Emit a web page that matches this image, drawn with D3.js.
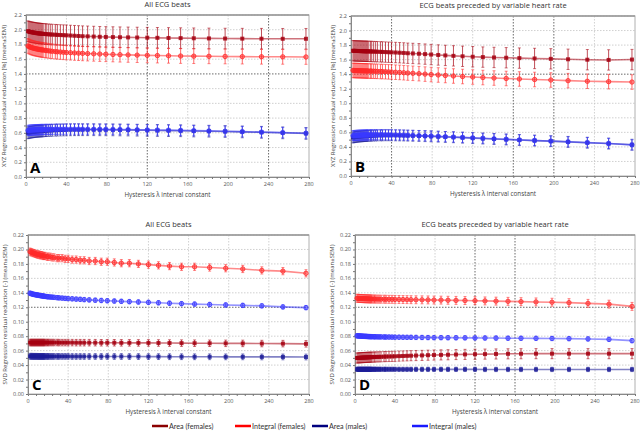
<!DOCTYPE html>
<html>
<head>
<meta charset="utf-8">
<script src="https://cdn.jsdelivr.net/npm/d3@7"></script>
<style>
  body { margin: 0; background: #fff; }
  svg text { font-family: "Open Sans", "Noto Sans", sans-serif; }
  svg text.leg { font-family: Lato, "Open Sans", sans-serif; }
</style>
</head>
<body>
<div id="chart"></div>
<script>
var svgWidth = 643;
var svgHeight = 437;

// hysteresis lambda values (x positions of the points)
var lambdas = [2,3,4,5,6,7,8,9,10,11,12,13,14,15,16,17,19,20,22,24,26,29,31,34,37,40,44,48,52,56,61,67,73,79,86,93,101,110,120,130,141,153,166,181,197,214,233,254,277];

var seriesNames = ["Area (females)", "Integral (females)", "Area (males)", "Integral (males)"];
var xTicks = [0, 40, 80, 120, 160, 200, 240, 280];

// Panel A - XYZ, all ECG beats
var aAreaF = [1.98,1.975,1.97,1.968,1.965,1.962,1.96,1.958,1.955,1.953,1.951,1.95,1.948,1.946,1.945,1.944,
  1.942,1.94,1.938,1.936,1.934,1.932,1.93,1.928,1.926,1.924,
  1.921,1.918,1.915,1.912,1.91,1.907,1.904,1.902,1.9,1.898,
  1.896,1.894,1.892,1.89,1.888,1.886,1.884,1.882,1.88,1.879,
  1.878,1.877,1.877];
var aIntF = [1.78,1.772,1.765,1.76,1.755,1.751,1.747,1.744,1.741,1.738,1.735,1.733,1.73,1.728,1.726,1.724,
  1.72,1.718,1.714,1.71,1.707,1.703,1.7,1.697,1.694,1.691,
  1.688,1.685,1.682,1.679,1.676,1.673,1.67,1.667,1.664,1.661,
  1.658,1.655,1.652,1.649,1.646,1.643,1.641,1.639,1.637,1.635,
  1.633,1.632,1.63];
var aAreaM = [0.6,0.604,0.607,0.61,0.612,0.614,0.616,0.618,0.62,0.621,0.622,0.623,0.624,0.625,0.626,0.627,
  0.629,0.63,0.632,0.633,0.634,0.636,0.637,0.638,0.639,0.64,
  0.641,0.642,0.642,0.642,0.642,0.642,0.641,0.641,0.64,0.639,
  0.638,0.636,0.634,0.632,0.63,0.628,0.625,0.622,0.618,0.613,
  0.607,0.6,0.592];
var aIntM = [0.632,0.634,0.636,0.637,0.638,0.639,0.64,0.641,0.642,0.642,0.643,0.643,0.644,0.644,0.645,0.645,
  0.646,0.646,0.647,0.647,0.648,0.648,0.649,0.649,0.649,0.65,
  0.65,0.65,0.65,0.649,0.649,0.648,0.648,0.647,0.646,0.645,
  0.644,0.642,0.64,0.638,0.636,0.633,0.63,0.626,0.621,0.616,
  0.61,0.603,0.595];
var aSem = [0.14, 0.10, 0.08, 0.07];

// Panel B - XYZ, beats preceded by variable heart rate
var bAreaF = [1.722,1.721,1.72,1.72,1.719,1.719,1.718,1.718,1.717,1.717,1.716,1.716,1.715,1.715,1.714,1.714,
  1.713,1.712,1.711,1.71,1.709,1.707,1.706,1.704,1.702,1.7,
  1.698,1.695,1.692,1.688,1.685,1.681,1.676,1.67,1.664,1.658,
  1.652,1.646,1.64,1.635,1.63,1.626,1.621,1.616,1.611,1.605,
  1.599,1.596,1.601];
var bIntF = [1.452,1.451,1.45,1.45,1.449,1.449,1.448,1.448,1.447,1.447,1.446,1.446,1.445,1.445,1.444,1.444,
  1.443,1.442,1.441,1.44,1.439,1.437,1.436,1.434,1.432,1.43,
  1.427,1.424,1.42,1.416,1.412,1.407,1.401,1.395,1.389,1.382,
  1.375,1.368,1.361,1.354,1.347,1.341,1.334,1.327,1.32,1.311,
  1.303,1.297,1.292];
var bAreaM = [0.53,0.533,0.536,0.538,0.54,0.542,0.543,0.545,0.546,0.547,0.548,0.549,0.55,0.551,0.552,0.553,
  0.554,0.555,0.556,0.557,0.558,0.559,0.559,0.56,0.56,0.56,
  0.559,0.558,0.557,0.555,0.553,0.551,0.548,0.545,0.541,0.537,
  0.533,0.527,0.521,0.515,0.509,0.502,0.495,0.487,0.479,0.469,
  0.458,0.446,0.43];
var bIntM = [0.555,0.556,0.557,0.558,0.559,0.56,0.561,0.562,0.562,0.563,0.563,0.564,0.564,0.565,0.565,0.565,
  0.566,0.566,0.566,0.567,0.567,0.567,0.567,0.567,0.566,0.566,
  0.565,0.564,0.562,0.56,0.558,0.555,0.552,0.549,0.545,0.541,
  0.536,0.531,0.525,0.519,0.512,0.505,0.497,0.489,0.48,0.47,
  0.459,0.447,0.428];
var bSem = [0.14, 0.10, 0.075, 0.07];

// Panel C - SVD, all ECG beats
var cAreaF = [0.0712,0.0712,0.0712,0.0712,0.0712,0.0712,0.0712,0.0712,0.0712,0.0712,0.0712,0.0712,0.0712,0.0712,0.0712,0.0712,
  0.0712,0.0712,0.0712,0.0712,0.0712,0.0712,0.0711,0.0711,0.0711,0.0711,
  0.0711,0.071,0.071,0.071,0.071,0.071,0.0709,0.0709,0.0709,0.0708,
  0.0708,0.0707,0.0707,0.0706,0.0705,0.0704,0.0703,0.0702,0.0701,0.07,
  0.0698,0.0697,0.0694];
var cIntF = [0.197,0.196,0.196,0.195,0.195,0.194,0.194,0.193,0.193,0.193,0.192,0.192,0.192,0.191,0.191,0.191,
  0.19,0.19,0.19,0.189,0.189,0.188,0.188,0.188,0.187,0.187,
  0.186,0.186,0.185,0.185,0.184,0.184,0.183,0.183,0.182,0.181,
  0.181,0.18,0.179,0.178,0.177,0.176,0.176,0.175,0.174,0.173,
  0.171,0.17,0.167];
var cAreaM = [0.0522,0.0522,0.0522,0.0521,0.0521,0.0521,0.0521,0.0521,0.052,0.052,0.052,0.052,0.052,0.052,0.052,0.052,
  0.052,0.052,0.052,0.052,0.052,0.052,0.052,0.052,0.052,0.052,
  0.0519,0.0519,0.0519,0.0519,0.0519,0.0519,0.0519,0.0519,0.0519,0.0519,
  0.0518,0.0518,0.0517,0.0517,0.0516,0.0516,0.0515,0.0515,0.0514,0.0514,
  0.0513,0.0513,0.0512];
var cIntM = [0.1395,0.139,0.1385,0.138,0.1378,0.1375,0.1372,0.137,0.1367,0.1365,0.1362,0.136,0.1358,0.1355,0.1353,0.135,
  0.1347,0.1345,0.1342,0.134,0.1337,0.1333,0.133,0.1327,0.1323,0.132,
  0.1317,0.1313,0.131,0.1306,0.1302,0.1298,0.1294,0.129,0.1286,0.1282,
  0.1278,0.1273,0.1268,0.1262,0.1256,0.125,0.1244,0.1238,0.1232,0.1226,
  0.122,0.1205,0.1195];
var cSem = [0.0045, 0.005, 0.004, 0.003];

// Panel D - SVD, beats preceded by variable heart rate
var dAreaF = [0.0498,0.0499,0.05,0.0501,0.0502,0.0503,0.0504,0.0505,0.0505,0.0506,0.0507,0.0508,0.0508,0.0509,0.051,0.051,
  0.0511,0.0512,0.0513,0.0514,0.0515,0.0517,0.0518,0.0519,0.052,0.0522,
  0.0524,0.0526,0.0528,0.053,0.0532,0.0534,0.0537,0.0539,0.0541,0.0543,
  0.0546,0.0548,0.055,0.0552,0.0554,0.0556,0.0557,0.0558,0.0558,0.0558,
  0.0558,0.0558,0.0558];
var dIntF = [0.1325,0.1324,0.1323,0.1322,0.1321,0.132,0.132,0.1319,0.1318,0.1318,0.1317,0.1317,0.1316,0.1316,0.1315,0.1315,
  0.1314,0.1314,0.1313,0.1313,0.1312,0.1312,0.1311,0.131,0.131,0.1309,
  0.1308,0.1307,0.1306,0.1305,0.1304,0.1303,0.1302,0.13,0.1299,0.1297,
  0.1295,0.1293,0.1291,0.1288,0.1285,0.1282,0.1278,0.1274,0.127,0.1264,
  0.1254,0.1243,0.1212];
var dAreaM = [0.0342,0.0342,0.0342,0.0342,0.0342,0.0342,0.0342,0.0342,0.0342,0.0342,0.0342,0.0342,0.0342,0.0342,0.0342,0.0342,
  0.0342,0.0342,0.0342,0.0342,0.0342,0.0342,0.0342,0.0342,0.0342,0.0342,
  0.0341,0.0341,0.0341,0.0341,0.0341,0.0341,0.0341,0.0341,0.0341,0.0341,
  0.0341,0.0341,0.0341,0.034,0.034,0.034,0.034,0.034,0.034,0.034,
  0.034,0.034,0.034];
var dIntM = [0.0805,0.0804,0.0803,0.0802,0.0801,0.08,0.0799,0.0798,0.0797,0.0797,0.0796,0.0795,0.0795,0.0794,0.0794,0.0793,
  0.0792,0.0792,0.0791,0.079,0.079,0.0789,0.0788,0.0788,0.0787,0.0786,
  0.0786,0.0785,0.0784,0.0784,0.0783,0.0782,0.0781,0.078,0.078,0.0779,
  0.0778,0.0777,0.0776,0.0775,0.0774,0.0772,0.0771,0.077,0.0768,0.0766,
  0.0762,0.0756,0.0738];
var dSem = [0.007, 0.0055, 0.003, 0.003];

var colors = ["#a50010", "#ff2a2a", "#1c1c96", "#3a3aff"];
var legendColors = ["#8b0000", "#ff0000", "#00007f", "#1a1aff"];

var titleAll = "All ECG beats";
var titleVar = "ECG beats preceded by variable heart rate";
var labelXYZ = "XYZ Regression residual reduction [%] (mean\u00b1SEM)";
var labelSVD = "SVD Regression residual reduction [-] (mean\u00b1SEM)";
var labelX = "Hysteresis \u03bb interval constant";

var panels = [
  {letter: "A", title: titleAll, ylab: labelXYZ, left: 26, right: 309, top: 15, bottom: 177, ymax: 2.2, ystep: 0.2, fmt: ".1f",
   darkY: [1.4], darkX: [120, 240], series: [aAreaF, aIntF, aAreaM, aIntM], sem: aSem, ylabX: 6},
  {letter: "B", title: titleVar, ylab: labelXYZ, left: 351, right: 635, top: 16, bottom: 176, ymax: 2.2, ystep: 0.2, fmt: ".1f",
   darkY: [1.4], darkX: [40, 160, 200], series: [bAreaF, bIntF, bAreaM, bIntM], sem: bSem, ylabX: 335},
  {letter: "C", title: titleAll, ylab: labelSVD, left: 28, right: 309, top: 235, bottom: 394, ymax: 0.22, ystep: 0.02, fmt: ".2f",
   darkY: [0.12], darkX: [], series: [cAreaF, cIntF, cAreaM, cIntM], sem: cSem, ylabX: 7},
  {letter: "D", title: titleVar, ylab: labelSVD, left: 355, right: 635, top: 235, bottom: 394, ymax: 0.22, ystep: 0.02, fmt: ".2f",
   darkY: [0.12], darkX: [120, 160], series: [dAreaF, dIntF, dAreaM, dIntM], sem: dSem, ylabX: 334}
];

var svg = d3.select("#chart")
  .append("svg")
  .attr("width", svgWidth)
  .attr("height", svgHeight);

panels.forEach(function(p) {
  var x = d3.scaleLinear().domain([0, 280]).range([p.left, p.right]);
  var y = d3.scaleLinear().domain([0, p.ymax]).range([p.bottom, p.top]);
  var yTicks = d3.range(0, p.ymax + p.ystep / 2, p.ystep);
  var g = svg.append("g");

  // grid
  g.selectAll(".gy").data(yTicks.slice(1)).enter().append("line")
    .attr("x1", p.left).attr("x2", p.right)
    .attr("y1", d => y(d)).attr("y2", d => y(d))
    .attr("stroke", d => p.darkY.some(v => Math.abs(v - d) < 1e-6) ? "#444" : "#c4c4c4")
    .attr("stroke-dasharray", "1.5,1.5")
    .attr("stroke-width", 0.8);
  g.selectAll(".gx").data(xTicks.slice(1, -1)).enter().append("line")
    .attr("x1", d => x(d)).attr("x2", d => x(d))
    .attr("y1", p.top).attr("y2", p.bottom)
    .attr("stroke", d => p.darkX.indexOf(d) >= 0 ? "#444" : "#c4c4c4")
    .attr("stroke-dasharray", "1.5,1.5")
    .attr("stroke-width", 0.8);

  // frame
  g.append("rect")
    .attr("x", p.left).attr("y", p.top)
    .attr("width", p.right - p.left).attr("height", p.bottom - p.top)
    .attr("fill", "none").attr("stroke", "#b0b0b0").attr("stroke-width", 1);
  g.append("line")
    .attr("x1", p.left).attr("x2", p.right).attr("y1", p.top).attr("y2", p.top)
    .attr("stroke", "#999").attr("stroke-width", 1.5);

  // axes
  var xAxis = d3.axisBottom(x).tickValues(d3.range(0, 281, 8)).tickSize(2).tickFormat("");
  g.append("g").attr("transform", `translate(0, ${p.bottom})`).call(xAxis)
    .call(a => a.selectAll("line").attr("stroke", "#777"))
    .call(a => a.select(".domain").attr("stroke", "#888"));
  var yAxis = d3.axisLeft(y).tickValues(d3.range(0, p.ymax + p.ystep / 4, p.ystep / 2)).tickSize(2).tickFormat("");
  g.append("g").attr("transform", `translate(${p.left}, 0)`).call(yAxis)
    .call(a => a.selectAll("line").attr("stroke", "#777"))
    .call(a => a.select(".domain").attr("stroke", "#888"));

  g.selectAll(".xl").data(xTicks).enter().append("text")
    .attr("x", d => x(d)).attr("y", p.bottom + 9)
    .attr("text-anchor", "middle").attr("font-size", 5.5).attr("fill", "#555")
    .text(d => d);
  g.selectAll(".yl").data(yTicks).enter().append("text")
    .attr("x", p.left - 4).attr("y", d => y(d) + 2)
    .attr("text-anchor", "end").attr("font-size", 5.5).attr("fill", "#555")
    .text(d => d3.format(p.fmt)(d));

  // titles & labels
  g.append("text")
    .attr("x", (p.left + p.right) / 2).attr("y", p.top - 8)
    .attr("text-anchor", "middle").attr("font-size", 7.5).attr("fill", "#333")
    .text(p.title);
  g.append("text")
    .attr("x", (p.left + p.right) / 2).attr("y", p.bottom + 20)
    .attr("text-anchor", "middle").attr("font-size", 6.3).attr("fill", "#444")
    .text(labelX);
  g.append("text")
    .attr("transform", `translate(${p.ylabX}, ${(p.top + p.bottom) / 2}) rotate(-90)`)
    .attr("text-anchor", "middle").attr("font-size", 6).attr("fill", "#444")
    .text(p.ylab);

  // series
  p.series.forEach(function(vals, si) {
    var col = colors[si];
    var pts = vals.map((v, i) => ({x: lambdas[i], y: v, e: p.sem[si]}));
    var sg = g.append("g");
    sg.append("path").datum(pts)
      .attr("fill", "none").attr("stroke", col).attr("stroke-width", 1.6)
      .attr("stroke-opacity", 0.55)
      .attr("d", d3.line().x(d => x(d.x)).y(d => y(d.y)));
    sg.selectAll(".eb").data(pts).enter().append("line")
      .attr("x1", d => x(d.x)).attr("x2", d => x(d.x))
      .attr("y1", d => y(d.y - d.e)).attr("y2", d => y(d.y + d.e))
      .attr("stroke", col).attr("stroke-width", 1).attr("stroke-opacity", 0.7);
    [-1, 1].forEach(function(s) {
      sg.selectAll(".cap").data(pts).enter().append("line")
        .attr("x1", d => x(d.x) - 1.5).attr("x2", d => x(d.x) + 1.5)
        .attr("y1", d => y(d.y + s * d.e)).attr("y2", d => y(d.y + s * d.e))
        .attr("stroke", col).attr("stroke-width", 0.8).attr("stroke-opacity", 0.7);
    });
    if (si % 2 === 0) {
      sg.selectAll(".mk").data(pts).enter().append("rect")
        .attr("x", d => x(d.x) - 2).attr("y", d => y(d.y) - 2)
        .attr("width", 4).attr("height", 4)
        .attr("fill", col).attr("fill-opacity", 0.85);
    } else {
      sg.selectAll(".mk").data(pts).enter().append("circle")
        .attr("cx", d => x(d.x)).attr("cy", d => y(d.y)).attr("r", 2.2)
        .attr("fill", col).attr("fill-opacity", 0.45)
        .attr("stroke", col).attr("stroke-width", 0.8);
    }
  });

  // panel letter
  g.append("text")
    .attr("x", p.left + 4).attr("y", p.bottom - 4)
    .attr("font-size", 15).attr("font-weight", "bold").attr("fill", "#000")
    .text(p.letter);
});

// legend
var legendX = [152, 235, 312, 412];
var legend = svg.append("g");
seriesNames.forEach(function(name, i) {
  legend.append("line")
    .attr("x1", legendX[i]).attr("x2", legendX[i] + 16)
    .attr("y1", 426).attr("y2", 426)
    .attr("stroke", legendColors[i]).attr("stroke-width", 2.5);
  legend.append("text")
    .attr("class", "leg")
    .attr("x", legendX[i] + 17).attr("y", 428.5)
    .attr("font-size", 7.2).attr("fill", "#333")
    .text(name);
});
</script>
</body>
</html>
